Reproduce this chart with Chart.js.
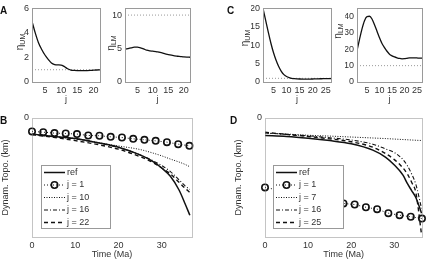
<!DOCTYPE html>
<html>
<head>
<meta charset="utf-8">
<script src="https://cdn.jsdelivr.net/npm/chart.js@4.4.1/dist/chart.umd.min.js"></script>
<style>
  html, body { margin: 0; padding: 0; background: #fff; }
  #wrap { position: relative; width: 428px; height: 261px; overflow: hidden; }
  #wrap canvas { position: absolute; left: 0; top: 0; }
</style>
</head>
<body>
<div id="wrap">
  <canvas id="cA1" width="428" height="261"></canvas>
  <canvas id="cA2" width="428" height="261"></canvas>
  <canvas id="cC1" width="428" height="261"></canvas>
  <canvas id="cC2" width="428" height="261"></canvas>
  <canvas id="cB" width="428" height="261"></canvas>
  <canvas id="cD" width="428" height="261"></canvas>
</div>
<script>
const FONT = "'Liberation Sans', Arial, Helvetica, sans-serif";
Chart.defaults.font.family = FONT;
Chart.defaults.font.size = 9;
Chart.defaults.color = '#333';

// ---------- data: panels A and C (viscosity vs iteration j) ----------
const jA = [1, 2, 3, 4, 5, 6, 7, 8, 9, 10, 11, 12, 13, 14, 15, 16, 17, 18, 19, 20, 21, 22];
const etaUM_A = [4.95, 4.0, 3.2, 2.65, 2.2, 1.85, 1.55, 1.42, 1.39, 1.38, 1.25, 1.08, 0.97, 0.94, 0.93, 0.93, 0.93, 0.93, 0.94, 0.96, 0.98, 0.99];
const etaLM_A = [4.9, 5.0, 5.1, 5.2, 5.2, 5.1, 4.95, 4.75, 4.65, 4.6, 4.55, 4.45, 4.35, 4.2, 4.1, 4.0, 3.9, 3.85, 3.8, 3.75, 3.72, 3.7];

const jC = [1, 2, 3, 4, 5, 6, 7, 8, 9, 10, 11, 12, 13, 14, 15, 16, 17, 18, 19, 20, 21, 22, 23, 24, 25, 26, 27];
const etaUM_C = [20, 16.8, 13.6, 10.6, 8.0, 5.9, 4.2, 2.9, 2.0, 1.5, 1.2, 1.0, 0.9, 0.85, 0.82, 0.8, 0.8, 0.8, 0.8, 0.82, 0.84, 0.86, 0.88, 0.9, 0.9, 0.92, 0.95];
const etaLM_C = [19.2, 26, 32.5, 37.5, 40, 40.2, 38.5, 35, 31, 27, 23.5, 21, 18.8, 17, 16, 15.3, 14.8, 14.4, 14.2, 14.3, 14.5, 14.7, 14.8, 14.8, 14.7, 14.6, 14.6];

// true (reference) viscosities, drawn dotted
const trueUM = [1, 1];
const trueLM = [10, 10];

// ---------- data: panel B (dynamic topography vs time) ----------
const tB = [0, 5, 10, 15, 20, 25, 28, 30, 32, 34, 35.4, 36.5];
const topoRefB = [-0.135, -0.155, -0.172, -0.206, -0.245, -0.31, -0.366, -0.42, -0.49, -0.605, -0.72, -0.817];
const topoJ10B = [-0.135, -0.155, -0.172, -0.205, -0.235, -0.265, -0.295, -0.318, -0.345, -0.37, -0.39, -0.41];
const topoJ16B = [-0.138, -0.158, -0.176, -0.208, -0.248, -0.31, -0.36, -0.40, -0.45, -0.52, -0.57, -0.60];
const topoJ22B = [-0.14, -0.162, -0.19, -0.222, -0.262, -0.325, -0.375, -0.42, -0.47, -0.54, -0.59, -0.625];
const tMarkB = [0, 2.6, 5.2, 7.8, 10.4, 13, 15.6, 18.2, 20.8, 23.4, 26, 28.6, 31.2, 33.8, 36.4];
const topoJ1B = [-0.113, -0.119, -0.127, -0.13, -0.135, -0.147, -0.149, -0.158, -0.164, -0.175, -0.183, -0.192, -0.203, -0.22, -0.234];

// ---------- data: panel D ----------
const tD = [0, 5, 10, 15, 20, 25, 28, 30, 32, 33, 34, 35, 36.3];
const topoRefD = [-0.147, -0.155, -0.17, -0.19, -0.217, -0.27, -0.33, -0.395, -0.48, -0.55, -0.61, -0.67, -0.8];
const topoJ7D = [-0.127, -0.135, -0.145, -0.152, -0.16, -0.168, -0.173, -0.177, -0.181, -0.183, -0.185, -0.187, -0.189];
const topoJ16D = [-0.125, -0.138, -0.15, -0.166, -0.185, -0.22, -0.26, -0.29, -0.35, -0.40, -0.47, -0.56, -0.76];
const topoJ25D = [-0.12, -0.138, -0.155, -0.175, -0.2, -0.245, -0.3, -0.35, -0.42, -0.47, -0.54, -0.63, -0.98];
const tMarkD = [0, 18.2, 20.8, 23.4, 26, 28.6, 31.2, 33.8, 36.4];
const topoJ1D = [-0.583, -0.718, -0.727, -0.75, -0.766, -0.8, -0.817, -0.83, -0.845];

// ---------- ticks ----------
const jTicksA = [5, 10, 15, 20];
const jTicksC = [5, 10, 15, 20, 25];
const yTicksA1 = [0, 2, 4, 6];
const yTicksA2 = [0, 5, 10];
const yTicksC1 = [0, 5, 10, 15, 20];
const yTicksC2 = [0, 10, 20, 30, 40];
const timeTicks = [0, 10, 20, 30];
const topoTicks = [0];

const W = 428, H = 261;
const INK = '#111';

function pts(xs, ys) {
  return xs.map((x, i) => ({ x: x, y: ys[i] }));
}

// ---------- plugins ----------
const framePlugin = {
  id: 'frame',
  afterDatasetsDraw(chart, args, o) {
    const a = chart.chartArea, ctx = chart.ctx;
    ctx.save();
    ctx.strokeStyle = o.color || '#9a9a9a';
    ctx.lineWidth = 1;
    ctx.setLineDash(o.dash || []);
    ctx.strokeRect(Math.round(a.left) + 0.5, Math.round(a.top) + 0.5,
      Math.round(a.right - a.left), Math.round(a.bottom - a.top));
    ctx.restore();
  }
};

// eta with subscript, rotated like a y axis label
const etaPlugin = {
  id: 'etaLabel',
  afterDraw(chart, args, o) {
    if (!o.sub) return;
    const ctx = chart.ctx;
    ctx.save();
    ctx.translate(o.x, o.y);
    ctx.rotate(-Math.PI / 2);
    ctx.fillStyle = '#333';
    ctx.textBaseline = 'middle';
    ctx.font = '10px ' + FONT;
    const wEta = ctx.measureText('η').width;
    ctx.font = '7px ' + FONT;
    const wSub = ctx.measureText(o.sub).width;
    const x0 = -(wEta + wSub) / 2;
    ctx.font = '10px ' + FONT;
    ctx.fillText('η', x0, 0);
    ctx.font = '7px ' + FONT;
    ctx.fillText(o.sub, x0 + wEta, 3);
    ctx.restore();
  }
};

const letterPlugin = {
  id: 'panelLetter',
  afterDraw(chart, args, o) {
    if (!o.text) return;
    const ctx = chart.ctx;
    ctx.save();
    ctx.fillStyle = '#111';
    ctx.font = 'bold 10px ' + FONT;
    ctx.textBaseline = 'alphabetic';
    ctx.fillText(o.text, o.x, o.y);
    ctx.restore();
  }
};

// boxed legend inside the plot, drawn from the datasets themselves
const boxLegendPlugin = {
  id: 'boxLegend',
  afterDatasetsDraw(chart, args, o) {
    if (!o.box) return;
    const ctx = chart.ctx;
    const [bx, by, bw, bh] = o.box;
    ctx.save();
    ctx.fillStyle = '#fff';
    ctx.fillRect(bx, by, bw, bh);
    ctx.strokeStyle = '#999';
    ctx.lineWidth = 1;
    ctx.setLineDash([]);
    ctx.strokeRect(bx + 0.5, by + 0.5, bw, bh);
    chart.data.datasets.forEach((ds, i) => {
      const y = by + o.first + i * o.step;
      ctx.strokeStyle = ds.borderColor;
      ctx.lineWidth = ds.borderWidth;
      ctx.setLineDash(ds.borderDash || []);
      ctx.beginPath();
      ctx.moveTo(bx + 3, y);
      ctx.lineTo(bx + 24, y);
      ctx.stroke();
      if (ds.pointRadius) {
        ctx.setLineDash([]);
        ctx.lineWidth = ds.pointBorderWidth;
        ctx.beginPath();
        ctx.arc(bx + 13.5, y, ds.pointRadius, 0, 2 * Math.PI);
        ctx.stroke();
      }
      ctx.fillStyle = '#333';
      ctx.font = '9px ' + FONT;
      ctx.textBaseline = 'middle';
      ctx.fillText(ds.label, bx + 26, y);
    });
    ctx.restore();
  }
};

Chart.register(framePlugin, etaPlugin, letterPlugin, boxLegendPlugin);

function axis(a, dir) {
  return {
    type: 'linear',
    min: a.min,
    max: a.max,
    grid: { display: false, drawTicks: false },
    border: { display: false },
    ticks: { padding: 3, autoSkip: false, maxRotation: 0, color: '#333', font: { size: 9 } },
    title: a.title ? { display: true, text: a.title, padding: 0, color: '#333', font: { size: 9 } } : { display: false },
    afterBuildTicks: s => { s.ticks = a.ticks.map(v => ({ value: v })); },
    afterFit: s => { if (dir === 'x') s.height = a.size; else s.width = a.size; }
  };
}

// area = plot box in page pixels
function panel(id, area, xa, ya, datasets, plugins) {
  return new Chart(document.getElementById(id), {
    type: 'line',
    data: { datasets: datasets },
    options: {
      responsive: false,
      animation: false,
      events: [],
      layout: { padding: { left: area.l - ya.size, top: area.t, right: W - area.r, bottom: H - area.b - xa.size } },
      scales: { x: axis(xa, 'x'), y: axis(ya, 'y') },
      plugins: Object.assign({ legend: { display: false }, tooltip: { enabled: false } }, plugins)
    }
  });
}

function curve(label, xs, ys, extra) {
  return Object.assign({
    label: label,
    data: pts(xs, ys),
    borderColor: INK,
    borderWidth: 1.3,
    pointRadius: 0,
    cubicInterpolationMode: 'monotone',
    fill: false
  }, extra || {});
}

function trueLine(xs, ys) {
  return {
    label: 'true',
    data: pts(xs, ys),
    borderColor: '#999',
    borderWidth: 1,
    borderDash: [1, 2],
    pointRadius: 0,
    fill: false
  };
}

// ---- A ----
panel('cA1', { l: 32, t: 7, r: 100, b: 82 },
  { min: 1, max: 22, ticks: jTicksA, title: 'j', size: 23 },
  { min: 0, max: 6, ticks: yTicksA1, size: 12 },
  [curve('ηUM', jA, etaUM_A), trueLine([1, 22], trueUM)],
  { etaLabel: { sub: 'UM', x: 20, y: 42 }, panelLetter: { text: 'A', x: 0, y: 14 } });

panel('cA2', { l: 125, t: 7, r: 190, b: 82 },
  { min: 1, max: 22, ticks: jTicksA, title: 'j', size: 23 },
  { min: 0, max: 11, ticks: yTicksA2, size: 12 },
  [curve('ηLM', jA, etaLM_A), trueLine([1, 22], trueLM)],
  { etaLabel: { sub: 'LM', x: 111, y: 43 } });

// ---- C ----
panel('cC1', { l: 263, t: 7, r: 331, b: 82 },
  { min: 1, max: 27, ticks: jTicksC, title: 'j', size: 23 },
  { min: 0, max: 20, ticks: yTicksC1, size: 12 },
  [curve('ηUM', jC, etaUM_C), trueLine([1, 27], trueUM)],
  { etaLabel: { sub: 'UM', x: 245, y: 38 }, panelLetter: { text: 'C', x: 227, y: 14 } });

panel('cC2', { l: 357, t: 7, r: 422, b: 82 },
  { min: 1, max: 27, ticks: jTicksC, title: 'j', size: 23 },
  { min: 0, max: 45, ticks: yTicksC2, size: 12 },
  [curve('ηLM', jC, etaLM_C), trueLine([1, 27], trueLM)],
  { etaLabel: { sub: 'LM', x: 338, y: 31 } });

// ---- B ----
const markerStyle = {
  borderWidth: 1, borderDash: [1, 2],
  pointRadius: 3.2, pointBorderWidth: 1.6, pointBorderColor: INK,
  pointBackgroundColor: 'rgba(255,255,255,0)', cubicInterpolationMode: 'default', clip: false
};

panel('cB', { l: 32, t: 118, r: 192, b: 237 },
  { min: 0, max: 37, ticks: timeTicks, title: 'Time (Ma)', size: 23.4 },
  { min: -1, max: 0, ticks: topoTicks, title: 'Dynam. Topo. (km)', size: 32 },
  [
    curve('ref', tB, topoRefB, { borderWidth: 1.5 }),
    curve('j = 1', tMarkB, topoJ1B, markerStyle),
    curve('j = 10', tB, topoJ10B, { borderWidth: 1, borderDash: [1, 1.5] }),
    curve('j = 16', tB, topoJ16B, { borderWidth: 1.1, borderDash: [4, 2, 1, 2] }),
    curve('j = 22', tB, topoJ22B, { borderWidth: 1.4, borderDash: [4, 3] })
  ],
  {
    frame: { dash: [1, 1], color: '#888' },
    boxLegend: { box: [41, 165, 69, 63], first: 7.5, step: 12.5 },
    panelLetter: { text: 'B', x: 0, y: 124 }
  });

// ---- D ----
panel('cD', { l: 265, t: 118, r: 424, b: 237 },
  { min: 0, max: 36.5, ticks: timeTicks, title: 'Time (Ma)', size: 23.4 },
  { min: -1, max: 0, ticks: topoTicks, title: 'Dynam. Topo. (km)', size: 32 },
  [
    curve('ref', tD, topoRefD, { borderWidth: 1.5 }),
    curve('j = 1', tMarkD, topoJ1D, markerStyle),
    curve('j = 7', tD, topoJ7D, { borderWidth: 1, borderDash: [1, 1.5] }),
    curve('j = 16', tD, topoJ16D, { borderWidth: 1.1, borderDash: [4, 2, 1, 2] }),
    curve('j = 25', tD, topoJ25D, { borderWidth: 1.4, borderDash: [4, 3] })
  ],
  {
    frame: { dash: [1, 1], color: '#888' },
    boxLegend: { box: [273, 165, 70, 63], first: 7.5, step: 12.5 },
    panelLetter: { text: 'D', x: 230, y: 123.5 }
  });
</script>
</body>
</html>
